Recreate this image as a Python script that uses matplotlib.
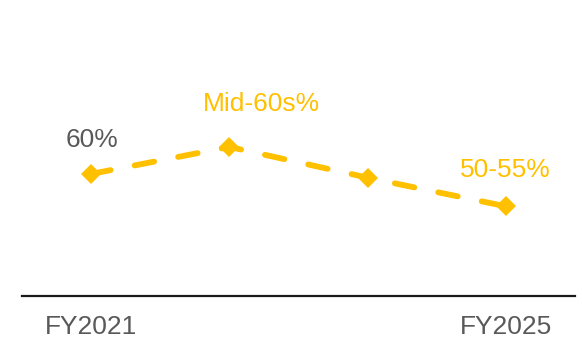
import matplotlib
matplotlib.use("Agg")
import matplotlib.pyplot as plt

plt.rcParams['font.family'] = ['Liberation Sans', 'DejaVu Sans']

categories = ["FY2021", "FY2022", "FY2023", "FY2025"]
tick_labels = ["FY2021", "", "", "FY2025"]
values = [60, 65, 59.3, 54.0]
point_labels = ["60%", "Mid-60s%", "", "50-55%"]
label_colors = ["#595959", "#FFC000", "#FFC000", "#FFC000"]
label_offsets = [(1, 34), (32, 43), (0, 0), (-1, 36)]

YELLOW = "#FFC000"

fig = plt.figure(figsize=(5.82, 3.40), dpi=100)
ax = fig.add_axes([22/582, (340-296)/340, 553/582, 296/340])

x = list(range(len(values)))
ax.plot(x, values, color=YELLOW, lw=4.2, ls=(0, (3.4, 4.2)), dash_capstyle='round',
        marker='D', markersize=10, markeredgewidth=0, zorder=3)

for xi, v, lab, c, off in zip(x, values, point_labels, label_colors, label_offsets):
    if lab:
        ax.annotate(lab, (xi, v), xytext=off, textcoords='offset pixels',
                    ha='center', va='center', fontsize=19, color=c)

ax.set_xlim(-0.5, 3.5)
ax.set_ylim(37.4, 92.2)
ax.set_xticks(x)
ax.set_xticklabels(tick_labels, fontsize=19, color="#595959")
ax.tick_params(axis='x', length=0, pad=14)
ax.set_yticks([])
for s in ['top', 'right', 'left']:
    ax.spines[s].set_visible(False)
ax.spines['bottom'].set_color('#1a1a1a')
ax.spines['bottom'].set_linewidth(1.6)
ax.patch.set_alpha(0)

fig.savefig("out.png", dpi=100)
